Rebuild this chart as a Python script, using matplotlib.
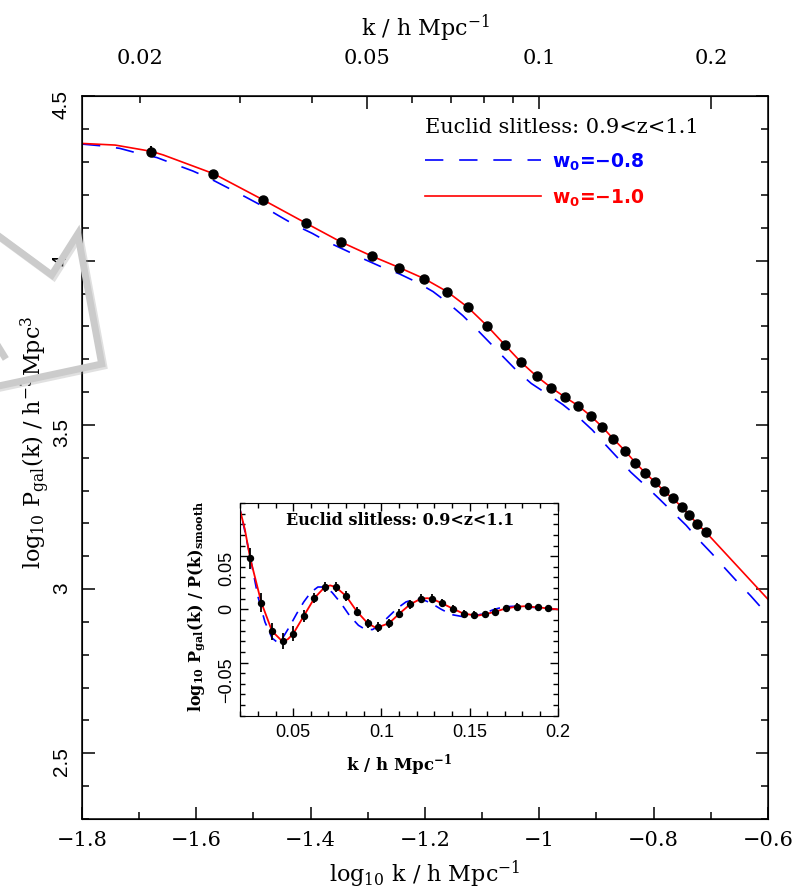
import numpy as np
import matplotlib
matplotlib.use('Agg')
import matplotlib.pyplot as plt
import matplotlib.patheffects as pe
from matplotlib.lines import Line2D
from matplotlib.ticker import FixedLocator, MultipleLocator, FuncFormatter

plt.rcParams['font.family'] = 'DejaVu Serif'
plt.rcParams['mathtext.fontset'] = 'custom'
plt.rcParams['mathtext.rm'] = 'DejaVu Serif'
plt.rcParams['mathtext.it'] = 'DejaVu Serif:italic'
plt.rcParams['mathtext.bf'] = 'DejaVu Serif:bold'
plt.rcParams['mathtext.sf'] = 'DejaVu Sans:bold'

# measured band powers (log10 k, log10 P)
data_logk = [-1.679, -1.570, -1.483, -1.409, -1.347, -1.293, -1.245, -1.201, -1.1615, -1.125,
             -1.0916, -1.0606, -1.032, -1.0047, -0.979, -0.9546, -0.9318, -0.910, -0.890, -0.8706,
             -0.850, -0.832, -0.8147, -0.798, -0.7825, -0.767, -0.751, -0.7375, -0.7237, -0.709]
data_logP = [4.332, 4.264, 4.185, 4.115, 4.057, 4.014, 3.979, 3.945, 3.906, 3.858,
             3.802, 3.744, 3.691, 3.648, 3.613, 3.584, 3.558, 3.527, 3.494, 3.4575,
             3.421, 3.385, 3.354, 3.326, 3.300, 3.276, 3.251, 3.225, 3.199, 3.174]
data_err = [0.016, 0.009, 0.007, 0.006, 0.005, 0.005, 0.004, 0.004, 0.004, 0.004,
            0.004, 0.004, 0.003, 0.003, 0.003, 0.003, 0.003, 0.003, 0.003, 0.003,
            0.003, 0.003, 0.003, 0.003, 0.003, 0.003, 0.003, 0.003, 0.003, 0.003]

# model w0 = -1.0
red_logk = [-1.8, -1.742, -1.679, -1.658, -1.570, -1.483, -1.409, -1.347, -1.293, -1.245,
            -1.201, -1.1615, -1.125, -1.0916, -1.0606, -1.032, -1.0047, -0.979, -0.9546, -0.9318,
            -0.910, -0.890, -0.8706, -0.850, -0.832, -0.8147, -0.798, -0.7825, -0.767, -0.751,
            -0.7375, -0.7237, -0.709, -0.6]
red_logP = [4.357, 4.352, 4.333, 4.322, 4.265, 4.185, 4.115, 4.057, 4.014, 3.979,
            3.945, 3.906, 3.858, 3.802, 3.744, 3.691, 3.648, 3.613, 3.584, 3.558,
            3.527, 3.494, 3.4575, 3.421, 3.385, 3.354, 3.326, 3.300, 3.276, 3.251,
            3.225, 3.199, 3.174, 2.969]

# model w0 = -0.8
blue_logk = [-1.8, -1.768, -1.734, -1.702, -1.669, -1.637, -1.606, -1.575, -1.545, -1.515,
             -1.486, -1.456, -1.428, -1.397, -1.368, -1.337, -1.307, -1.276, -1.245, -1.215,
             -1.186, -1.161, -1.134, -1.110, -1.086, -1.063, -1.040, -1.014, -0.987, -0.959,
             -0.933, -0.907, -0.886, -0.862, -0.840, -0.815, -0.791, -0.767, -0.743, -0.721,
             -0.698, -0.675, -0.654, -0.630, -0.608, -0.600]
blue_logP = [4.355, 4.350, 4.342, 4.327, 4.314, 4.293, 4.273, 4.249, 4.222, 4.195,
             4.168, 4.137, 4.109, 4.083, 4.055, 4.030, 4.005, 3.981, 3.960, 3.935,
             3.906, 3.873, 3.833, 3.792, 3.749, 3.707, 3.666, 3.626, 3.595, 3.562,
             3.526, 3.484, 3.443, 3.398, 3.356, 3.316, 3.276, 3.235, 3.194, 3.150,
             3.108, 3.063, 3.023, 2.979, 2.936, 2.924]

# BAO wiggles: log10 P_gal / P_smooth
wig_k = [0.0256, 0.0319, 0.038, 0.0441, 0.050, 0.0559, 0.062, 0.0679, 0.0741, 0.080,
         0.0861, 0.0922, 0.0983, 0.1044, 0.1102, 0.1163, 0.1224, 0.1285, 0.1346, 0.1405,
         0.1466, 0.1525, 0.1586, 0.1647, 0.1706, 0.1768, 0.1829, 0.1886, 0.1945]
wig_val = [0.048, 0.0063, -0.0204, -0.0301, -0.0229, -0.0063, 0.0106, 0.021, 0.021, 0.0125,
           -0.0022, -0.0132, -0.0166, -0.0132, -0.0041, 0.0047, 0.0100, 0.0100, 0.0056, 0.0006,
           -0.0041, -0.0053, -0.0047, -0.0022, 0.0009, 0.0025, 0.0028, 0.0019, 0.0009]
wig_err = [0.010, 0.009, 0.008, 0.0075, 0.007, 0.006, 0.005, 0.0045, 0.0045, 0.0045,
           0.0045, 0.0045, 0.0044, 0.0042, 0.004, 0.004, 0.004, 0.004, 0.0038, 0.0038,
           0.0036, 0.0036, 0.0036, 0.0035, 0.0035, 0.0035, 0.0035, 0.0035, 0.0035]

wig_red_k = [0.019, 0.0226, 0.0256, 0.0319, 0.038, 0.0441, 0.047, 0.050, 0.0559, 0.062,
             0.0679, 0.071, 0.0741, 0.080, 0.0861, 0.0922, 0.097, 0.1044, 0.1102, 0.1163,
             0.1224, 0.126, 0.1285, 0.1346, 0.1405, 0.1466, 0.1525, 0.155, 0.1586, 0.1647,
             0.1706, 0.1768, 0.181, 0.1886, 0.1945, 0.2]
wig_red_v = [0.099, 0.075, 0.048, 0.0065, -0.0205, -0.0305, -0.028, -0.023, -0.0065, 0.0105,
             0.021, 0.0225, 0.021, 0.0125, -0.002, -0.013, -0.0175, -0.013, -0.004, 0.0047,
             0.010, 0.0105, 0.010, 0.0056, 0.0006, -0.004, -0.0055, -0.0058, -0.0047, -0.0022,
             0.0009, 0.0025, 0.0029, 0.0019, 0.0009, 0.0]

wig_blue_k = [0.019, 0.022, 0.026, 0.030, 0.034, 0.038, 0.041, 0.044, 0.048, 0.052,
              0.056, 0.060, 0.064, 0.068, 0.072, 0.077, 0.082, 0.087, 0.091, 0.095,
              0.099, 0.104, 0.109, 0.114, 0.119, 0.123, 0.128, 0.134, 0.140, 0.146,
              0.152, 0.158, 0.164, 0.170, 0.177, 0.185, 0.193, 0.200]
wig_blue_v = [0.100, 0.078, 0.046, 0.012, -0.012, -0.027, -0.031, -0.027, -0.016, -0.004,
              0.007, 0.016, 0.021, 0.021, 0.016, 0.006, -0.006, -0.015, -0.019, -0.019,
              -0.015, -0.007, 0.001, 0.007, 0.0095, 0.0095, 0.006, 0.000, -0.005, -0.0068,
              -0.0065, -0.004, 0.000, 0.0025, 0.003, 0.002, 0.001, 0.000]

top_major = [0.05, 0.1, 0.2]
top_minor = [0.02, 0.03, 0.04, 0.06, 0.07, 0.08, 0.09]


def fmt_g(v, pos):
    return ('%g' % round(v, 6)).replace('-', '\u2212')


fig = plt.figure(figsize=(7.96, 8.95), dpi=100)
ax = fig.add_axes([0.1030, 0.0838, 0.8618, 0.8073])

ax.plot(blue_logk, blue_logP, color='blue', lw=1.2, dashes=(11, 9.5), label='$\\mathsf{w_0}$=\u22120.8')
ax.plot(red_logk, red_logP, color='red', lw=1.2, label='$\\mathsf{w_0}$=\u22121.0')
ax.errorbar(data_logk, data_logP, yerr=data_err, fmt='o', color='black', ms=6.5,
            elinewidth=1.5, capsize=0, zorder=5)

ax.set_xlim(-1.8, -0.6)
ax.set_ylim(2.3, 4.5)
ax.xaxis.set_major_locator(MultipleLocator(0.2))
ax.xaxis.set_minor_locator(MultipleLocator(0.1))
ax.yaxis.set_major_locator(MultipleLocator(0.5))
ax.yaxis.set_minor_locator(MultipleLocator(0.1))
ax.xaxis.set_major_formatter(FuncFormatter(fmt_g))
ax.yaxis.set_major_formatter(FuncFormatter(fmt_g))
ax.tick_params(which='both', direction='in', top=False, right=True, width=1.1)
ax.tick_params(which='major', length=9)
ax.tick_params(which='minor', length=5)
ax.tick_params(axis='x', labelsize=15, pad=8)
ax.tick_params(axis='y', labelsize=15, pad=8, labelrotation=90, labelfontfamily='Liberation Sans')
for s in ax.spines.values():
    s.set_linewidth(1.1)

ax.set_xlabel('log$_{10}$ k / h Mpc$^{-1}$', fontsize=16, labelpad=6)
ax.set_ylabel('log$_{10}$ P$_{\\rm gal}$(k) / h$^{-3}$Mpc$^3$', fontsize=16)
ax.yaxis.set_label_coords(-0.044, 0.523)

# k on the top axis
ax2 = ax.twiny()
ax2.set_xlim(ax.get_xlim())
ax2.set_xticks(np.log10(top_major), [fmt_g(v, None) for v in top_major])
ax2.set_xticks(np.log10(top_minor), ['0.02' if v == 0.02 else '' for v in top_minor], minor=True)
ax2.tick_params(which='both', direction='in', labelsize=15, pad=21, width=1.1)
ax2.tick_params(which='major', length=9)
ax2.tick_params(which='minor', length=5)
ax2.set_xlabel('k / h Mpc$^{-1}$', fontsize=16, labelpad=10)

leg = ax.legend(loc='upper left', bbox_to_anchor=(0.5, 0.971), frameon=False,
                title='Euclid slitless: 0.9<z<1.1', title_fontsize=15, alignment='left',
                prop={'family': 'DejaVu Sans', 'weight': 'bold', 'size': 13.5},
                handlelength=6.2, handletextpad=0.6, labelspacing=0.78,
                borderpad=0, borderaxespad=0, labelcolor='linecolor')

# inset: wiggles relative to the smooth spectrum
axin = fig.add_axes([0.3019, 0.1992, 0.3987, 0.2377])
axin.plot(wig_blue_k, wig_blue_v, color='blue', lw=1.2, dashes=(6.5, 5))
axin.plot(wig_red_k, wig_red_v, color='red', lw=1.3)
axin.errorbar(wig_k, wig_val, yerr=wig_err, fmt='o', color='black', ms=4.3,
              elinewidth=1.3, capsize=0, zorder=5)
axin.set_xlim(0.02, 0.2)
axin.set_ylim(-0.1, 0.1)
axin.xaxis.set_major_locator(FixedLocator([0.05, 0.1, 0.15, 0.2]))
axin.xaxis.set_minor_locator(MultipleLocator(0.01))
axin.yaxis.set_major_locator(FixedLocator([-0.05, 0, 0.05]))
axin.yaxis.set_minor_locator(MultipleLocator(0.01))
axin.xaxis.set_major_formatter(FuncFormatter(fmt_g))
axin.yaxis.set_major_formatter(FuncFormatter(fmt_g))
axin.tick_params(which='both', direction='in', top=True, right=True, width=1.0,
                 labelsize=13, labelfontfamily='Liberation Sans')
axin.tick_params(which='major', length=6)
axin.tick_params(which='minor', length=3.5)
axin.tick_params(axis='y', labelrotation=90, pad=4)
axin.tick_params(axis='x', pad=5)
axin.set_xlabel('k / h Mpc$^{\\mathbf{-1}}$', fontsize=12, fontweight='bold', labelpad=8)
axin.set_ylabel('log$_{\\mathbf{10}}$ P$_{\\mathbf{gal}}$(k) / P(k)$_{\\mathbf{smooth}}$',
                fontsize=11.5, fontweight='bold')
axin.yaxis.set_label_coords(-0.105, 0.52)
axin.text(0.503, 0.92, 'Euclid slitless: 0.9<z<1.1', transform=axin.transAxes,
          ha='center', va='center', fontsize=11.5, fontweight='bold')

# grey pen stroke across the left margin
stroke_x = [0, 51.7, 77.7, 101.7, 0]
stroke_y = [238, 276, 235, 365, 386.7]
shadow = [pe.SimpleLineShadow(offset=(1.5, -1.5), shadow_color='#999999', alpha=0.3), pe.Normal()]
fig.add_artist(Line2D([x / 796 for x in stroke_x], [1 - y / 895 for y in stroke_y],
                      transform=fig.transFigure, color='#cbcbcb', lw=5,
                      solid_joinstyle='miter', path_effects=shadow, zorder=10))
fig.add_artist(Line2D([-4 / 796, 4 / 796], [1 - 344 / 895, 1 - 357 / 895],
                      transform=fig.transFigure, color='#cbcbcb', lw=5, zorder=10))

fig.savefig('out.png', dpi=100)
